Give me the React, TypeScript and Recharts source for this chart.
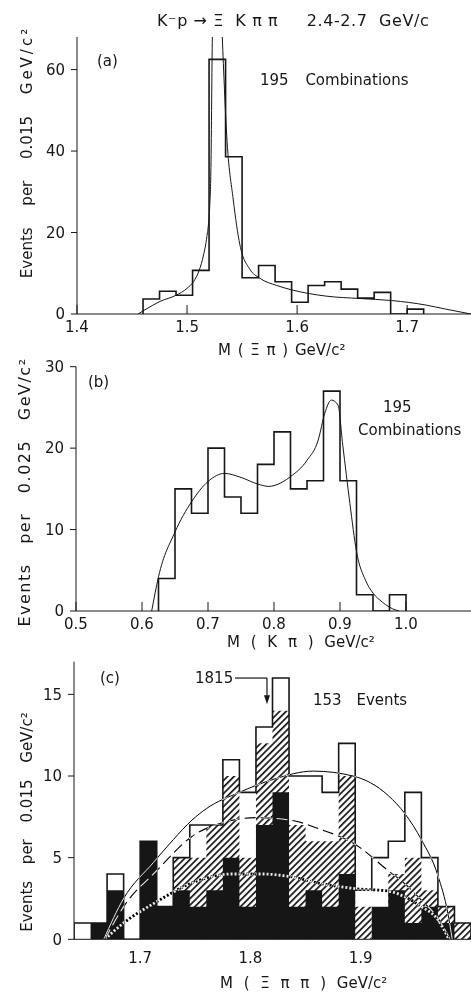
import React from 'react'
import { ComposedChart, Line, Area, XAxis, YAxis, CartesianGrid, ReferenceLine, ReferenceDot } from 'recharts'

const FONT = '"DejaVu Sans", sans-serif'
const INK = '#161616'

// (a) M(Ξπ): 0.015 GeV bins starting at 1.46
const xiPiStart = 1.46
const xiPiWidth = 0.015
const xiPiCounts = [3.7, 5.6, 4.6, 10.7, 62.5, 38.6, 8.9, 11.9, 7.9, 2.9, 7.0, 7.9, 6.1, 3.9, 5.3, 0, 1.2]
const xiPiFit = [
  [1.4555, 0], [1.461, 0.9], [1.4755, 3.1], [1.49, 4.6], [1.5, 6.3], [1.506, 8.0], [1.511, 10.7],
  [1.515, 14.5], [1.518, 19], [1.5205, 26], [1.5217, 36], [1.523, 68], [1.5275, 100], [1.532, 68],
  [1.536, 44], [1.542, 28], [1.548, 17], [1.557, 11], [1.566, 8.8], [1.5815, 7.0], [1.597, 5.8],
  [1.626, 4.4], [1.657, 3.8], [1.686, 3.3], [1.717, 2.2], [1.735, 1.2], [1.758, 0],
]
const xiPiXTicks = [1.4, 1.5, 1.6, 1.7]
const xiPiYTicks = [0, 20, 40, 60]

// (b) M(Kπ): 0.025 GeV bins starting at 0.625
const kPiStart = 0.625
const kPiWidth = 0.025
const kPiCounts = [4, 15, 12, 20, 14, 12, 18, 22, 15, 16, 27, 16, 2, 0, 2]
const kPiFit = [
  [0.6147, 0], [0.625, 4.2], [0.65, 9.7], [0.675, 13.4], [0.7, 15.9], [0.725, 16.9], [0.75, 16.4],
  [0.775, 15.6], [0.792, 15.3], [0.8, 15.4], [0.825, 16.5], [0.85, 18.5], [0.867, 21], [0.877, 24.3],
  [0.887, 25.9], [0.897, 25.3], [0.904, 20.5], [0.915, 13.2], [0.925, 7.3], [0.9385, 3.8], [0.95, 2.2],
  [0.964, 1.1], [0.985, 0.1], [0.99, 0],
]
const kPiXTicks = [0.5, 0.6, 0.7, 0.8, 0.9, 1.0]
const kPiYTicks = [0, 10, 20, 30]

// (c) M(Ξππ): 0.015 GeV bins starting at 1.64, three nested samples
const xiPiPiStart = 1.64
const xiPiPiWidth = 0.015
const xiPiPiTotal = [1, 1, 4, 0, 6, 2, 5, 7, 7, 11, 9, 13, 16, 10, 10, 9, 12, 3, 5, 6, 9, 5, 2, 1]
const xiPiPiHatched = [0, 0, 0, 0, 0, 0, 5, 5, 7, 10, 5, 12, 14, 7, 6, 6, 10, 2, 0, 4, 5, 3, 2, 1]
const xiPiPiBlack = [0, 1, 3, 0, 6, 2, 3, 2, 3, 5, 2, 7, 9, 2, 3, 2, 4, 0, 2, 3, 1, 2, 1, 0]
const fitSolid = [
  [1.667, 0], [1.685, 2.5], [1.712, 4.7], [1.73, 6.1], [1.747, 7.3], [1.76, 8.0], [1.79, 9.0],
  [1.821, 9.8], [1.857, 10.3], [1.893, 10.0], [1.925, 8.8], [1.94, 7.7], [1.955, 6.1], [1.97, 3.9],
  [1.979, 1.6], [1.983, 0],
]
const fitDashed = [
  [1.668, 0], [1.685, 2.0], [1.715, 4.2], [1.747, 6.3], [1.778, 7.2], [1.805, 7.45], [1.836, 7.3],
  [1.865, 6.7], [1.893, 5.9], [1.925, 4.2], [1.94, 3.4], [1.955, 2.4], [1.97, 1.3], [1.981, 0],
]
const fitDotted = [
  [1.668, 0], [1.685, 1.0], [1.715, 2.3], [1.745, 3.4], [1.784, 4.0], [1.81, 4.0], [1.835, 3.85],
  [1.865, 3.4], [1.895, 3.1], [1.925, 2.95], [1.94, 2.6], [1.955, 2.0], [1.97, 1.2], [1.98, 0],
]
const xiPiPiXTicks = [1.7, 1.8, 1.9]
const xiPiPiYTicks = [0, 5, 10, 15]
const peakMass = 1.815

const histSteps = (start: number, width: number, counts: number[]) => {
  const end = start + counts.length * width
  return [
    { x: start, y: 0 },
    ...counts.map((y, i) => ({ x: start + i * width, y })),
    { x: end, y: counts[counts.length - 1] },
    { x: end, y: 0 },
  ]
}
const toPts = (pairs: number[][]) => pairs.map(([x, y]) => ({ x, y }))

const tickFont = { fill: INK, fontSize: 15, fontFamily: FONT }

type PanelProps = {
  top: number
  height: number
  width?: number
  plotTop: number
  plotBottom: number
  plotLeft: number
  xDomain: [number, number]
  yDomain: [number, number]
  xLabels: number[]
  xInner: number[]
  yLabels: number[]
  yInner: number[]
  bottomTicks?: boolean
  children: React.ReactNode
}

function Panel(p: PanelProps) {
  const bottomH = p.top + p.height - p.plotBottom
  const ticksUp = p.bottomTicks !== false
  return (
    <div style={{ position: 'absolute', left: 0, top: p.top }}>
      <ComposedChart
        width={p.width ?? 471}
        height={p.height}
        margin={{ top: p.plotTop - p.top, right: 0, bottom: 0, left: 0 }}
      >
        <CartesianGrid horizontal={false} vertical={false} fill="#fff" />
        <XAxis
          type="number"
          dataKey="x"
          domain={p.xDomain}
          ticks={p.xLabels}
          interval={0}
          height={bottomH}
          allowDataOverflow
          stroke={INK}
          tickLine={ticksUp}
          tickSize={ticksUp ? -9 : 0}
          tickMargin={ticksUp ? 16 : 13}
          tick={tickFont}
          tickFormatter={(v) => Number(v).toFixed(1)}
        />
        <XAxis
          xAxisId="t"
          orientation="top"
          type="number"
          domain={p.xDomain}
          ticks={p.xInner}
          height={0}
          mirror
          tick={false}
          tickSize={8}
          stroke={INK}
        />
        <YAxis
          type="number"
          domain={p.yDomain}
          ticks={p.yLabels}
          interval={0}
          width={p.plotLeft}
          allowDataOverflow
          stroke={INK}
          tickSize={6}
          tickMargin={6}
          tick={tickFont}
        />
        <YAxis
          yAxisId="r"
          orientation="right"
          type="number"
          domain={p.yDomain}
          ticks={p.yInner}
          width={0}
          mirror
          tick={false}
          axisLine={false}
          tickSize={8}
          stroke={INK}
        />
        {p.children}
      </ComposedChart>
    </div>
  )
}

function Txt({ x, y, size = 15, children, style }: { x: number; y: number; size?: number; children: React.ReactNode; style?: React.CSSProperties }) {
  return (
    <div style={{ position: 'absolute', left: x, top: y, fontSize: size, lineHeight: 1, whiteSpace: 'pre', color: INK, ...style }}>
      {children}
    </div>
  )
}

function VTitle({ cx, cy, size = 15, ls = 0, ws = 12, children }: { cx: number; cy: number; size?: number; ls?: number; ws?: number; children: React.ReactNode }) {
  return (
    <div
      style={{
        position: 'absolute', left: cx, top: cy, fontSize: size, lineHeight: 1, whiteSpace: 'pre',
        letterSpacing: ls, wordSpacing: ws, color: INK,
        transform: 'translate(-50%, -50%) rotate(-90deg)',
      }}
    >
      {children}
    </div>
  )
}

export default function App() {
  return (
    <div style={{ position: 'absolute', left: 0, top: 0, width: 471, height: 996, overflow: 'hidden', background: '#fff', fontFamily: FONT }}>
      <style>{'.blend { mix-blend-mode: difference; }'}</style>
      <svg width={0} height={0} style={{ position: 'absolute' }}>
        <defs>
          <pattern id="hatch" width={4.6} height={4.6} patternUnits="userSpaceOnUse" patternTransform="rotate(45)">
            <rect x={0} y={0} width={1.7} height={4.6} fill={INK} />
          </pattern>
        </defs>
      </svg>

      <Txt x={157} y={13} size={16} style={{ letterSpacing: 0.6 }}>{'K⁻p → Ξ  K π π     2.4-2.7  GeV/c'}</Txt>

      {/* (a) */}
      <Panel
        top={0} height={340} plotTop={37} plotBottom={314} plotLeft={77}
        xDomain={[1.4, 1.758]} yDomain={[0, 68]}
        xLabels={xiPiXTicks} xInner={[1.5, 1.6, 1.7]} yLabels={xiPiYTicks} yInner={[20, 40, 60]}
      >
        <Line data={histSteps(xiPiStart, xiPiWidth, xiPiCounts)} dataKey="y" type="stepAfter" stroke={INK} strokeWidth={1.6} dot={false} isAnimationActive={false} />
        <Line data={toPts(xiPiFit)} dataKey="y" type="monotone" stroke={INK} strokeWidth={1} dot={false} isAnimationActive={false} />
      </Panel>
      <Txt x={97} y={54}>(a)</Txt>
      <Txt x={260} y={73} style={{ wordSpacing: 12 }}>195 Combinations</Txt>
      <VTitle cx={27} cy={152} ws={17}>{'Events per 0.015 '}<span style={{ letterSpacing: 3 }}>GeV/c²</span></VTitle>
      <Txt x={218} y={343} style={{ wordSpacing: 2 }}>M ( Ξ π ) GeV/c²</Txt>

      {/* (b) */}
      <Panel
        top={350} height={290} width={472} plotTop={366.7} plotBottom={611} plotLeft={76}
        xDomain={[0.5, 1.1]} yDomain={[0, 30]}
        xLabels={kPiXTicks} xInner={[0.6, 0.7, 0.8, 0.9, 1.0]} yLabels={kPiYTicks} yInner={[10, 20]}
      >
        <Line data={histSteps(kPiStart, kPiWidth, kPiCounts)} dataKey="y" type="stepAfter" stroke={INK} strokeWidth={1.6} dot={false} isAnimationActive={false} />
        <Line data={toPts(kPiFit)} dataKey="y" type="monotone" stroke={INK} strokeWidth={1} dot={false} isAnimationActive={false} />
      </Panel>
      <Txt x={88} y={375}>(b)</Txt>
      <Txt x={383} y={400}>195</Txt>
      <Txt x={358} y={423}>Combinations</Txt>
      <VTitle cx={25} cy={492} size={16} ls={1.5} ws={13}>Events per 0.025 GeV/c²</VTitle>
      <Txt x={227} y={635} style={{ wordSpacing: 6 }}>M ( K π ) GeV/c²</Txt>

      {/* (c) */}
      <Panel
        top={645} height={351} plotTop={661.7} plotBottom={939.3} plotLeft={74}
        xDomain={[1.64, 2.0]} yDomain={[0, 17]}
        xLabels={xiPiPiXTicks} xInner={xiPiPiXTicks} yLabels={xiPiPiYTicks} yInner={[5, 10, 15]}
        bottomTicks={false}
      >
        <Area data={histSteps(xiPiPiStart, xiPiPiWidth, xiPiPiHatched)} dataKey="y" type="stepAfter" stroke="none" fill="url(#hatch)" fillOpacity={1} dot={false} activeDot={false} isAnimationActive={false} />
        <Area data={histSteps(xiPiPiStart, xiPiPiWidth, xiPiPiBlack)} dataKey="y" type="stepAfter" stroke="none" fill={INK} fillOpacity={1} dot={false} activeDot={false} isAnimationActive={false} />
        <Line data={histSteps(xiPiPiStart, xiPiPiWidth, xiPiPiTotal)} dataKey="y" type="stepAfter" stroke={INK} strokeWidth={1.6} dot={false} isAnimationActive={false} />
        <Line className="blend" data={toPts(fitSolid)} dataKey="y" type="monotone" stroke="#fff" strokeWidth={1} dot={false} isAnimationActive={false} />
        <Line className="blend" data={toPts(fitDashed)} dataKey="y" type="monotone" stroke="#fff" strokeWidth={1.1} strokeDasharray="11 5" dot={false} isAnimationActive={false} />
        <Line className="blend" data={toPts(fitDotted)} dataKey="y" type="monotone" stroke="#fff" strokeWidth={2.8} strokeDasharray="2 2" dot={false} isAnimationActive={false} />
        <ReferenceLine segment={[{ x: 1.786, y: 16 }, { x: peakMass, y: 16 }]} stroke={INK} strokeWidth={1.2} />
        <ReferenceLine segment={[{ x: peakMass, y: 16 }, { x: peakMass, y: 14.8 }]} stroke={INK} strokeWidth={1.2} />
        <ReferenceDot
          x={peakMass} y={14.4} r={0}
          shape={(s: any) => <path d={`M${s.cx - 3},${s.cy - 9} L${s.cx + 3},${s.cy - 9} L${s.cx},${s.cy} Z`} fill={INK} />}
        />
      </Panel>
      <Txt x={100} y={671}>(c)</Txt>
      <Txt x={195} y={671}>{peakMass * 1000}</Txt>
      <Txt x={313} y={693} style={{ wordSpacing: 10 }}>153 Events</Txt>
      <VTitle cx={27} cy={822} ws={12}>Events per 0.015 GeV/c²</VTitle>
      <Txt x={220} y={976} style={{ wordSpacing: 6 }}>M ( Ξ π π ) GeV/c²</Txt>
    </div>
  )
}
